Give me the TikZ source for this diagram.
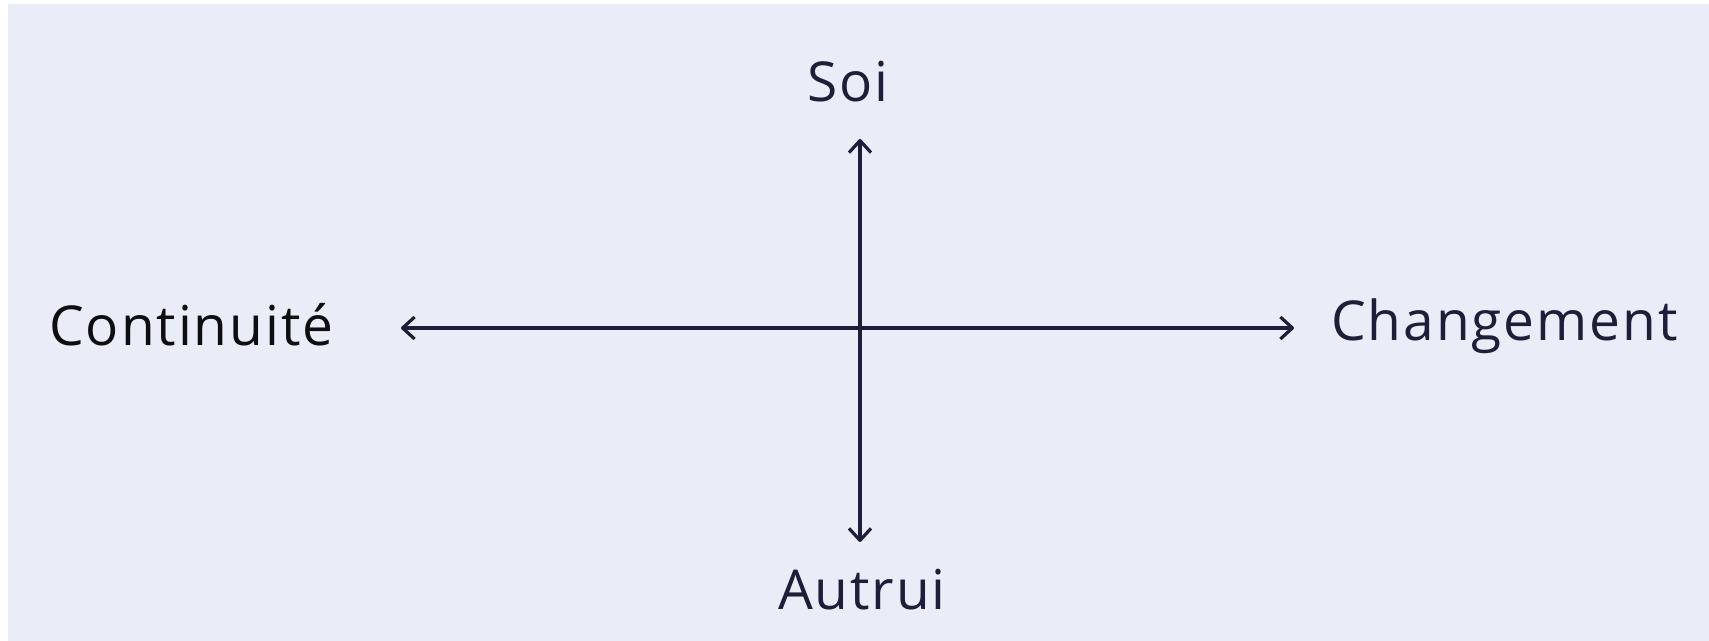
\documentclass[tikz,border=0pt]{standalone}
\usepackage{fontspec}
\setmainfont{Open Sans}[LetterSpace=3.5]
\usetikzlibrary{arrows.meta}

\definecolor{fond}{HTML}{EAECF7}
\definecolor{encre}{HTML}{1E1E38}
\definecolor{noir}{HTML}{0D0D12}

\begin{document}
\begin{tikzpicture}[x=0.5pt,y=-0.5pt]
\tikzstyle{pole} = [font=\fontsize{27.5}{33}\selectfont, text=encre, inner sep=0pt]
\tikzstyle{axe} = [draw=encre, line width=1.6pt, line cap=round,
  {Straight Barb[length=6pt,width=11pt,line join=round]}-{Straight Barb[length=6pt,width=11pt,line join=round]}]
\useasboundingbox (0,0) rectangle (1709,641);
\fill[white] (0,0) rectangle (1709,641);
\fill[fond] (8,4) rectangle (1709,641);
% les deux axes
\coordinate (centre) at (860,328);
\coordinate (gauche) at (401,328);
\coordinate (droite) at (1294,328);
\coordinate (haut) at (860,139);
\coordinate (bas) at (860,542);
\draw[axe] (gauche) -- (droite);
\draw[axe] (haut) -- (bas);
% les poles
\node[pole, anchor=base] (soi) at (848,102) {Soi};
\node[pole, anchor=base] (autrui) at (862,610) {Autrui};
\node[pole, anchor=base west, text=noir] (continuite) at (49,346) {Continuité};
\node[pole, anchor=base west] (changement) at (1331,341) {Changement};
\end{tikzpicture}
\end{document}
